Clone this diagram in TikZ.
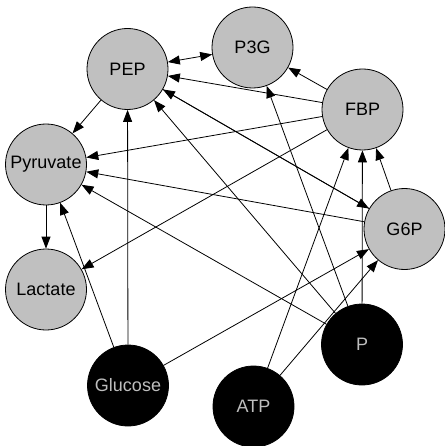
\documentclass[tikz,border=0pt]{standalone}
\usepackage{fontspec}
\setmainfont{Liberation Sans}
\usetikzlibrary{arrows.meta}
\definecolor{nodegray}{HTML}{C0C0C0}
\definecolor{txtgray}{HTML}{BEBEBE}
\tikzset{
  mol/.style={circle, draw=black, line width=0.8pt, fill=nodegray, minimum size=81pt, inner sep=0pt, font=\fontsize{18}{20}\selectfont},
  src/.style={mol, fill=black, text=txtgray},
  arr/.style={-{Triangle[length=12pt,width=9pt]}, line width=0.8pt},
  darr/.style={{Triangle[length=12pt,width=9pt]}-{Triangle[length=12pt,width=9pt]}, line width=0.8pt}
}
\begin{document}
\begin{tikzpicture}[x=1pt,y=-1pt]
\useasboundingbox (0,0) rectangle (444,446);
\node[mol] (PEP) at (127.5,69) {PEP};
\node[mol] (P3G) at (252.5,47.5) {P3G};
\node[mol] (FBP) at (362.5,109.5) {FBP};
\node[mol] (Pyr) at (46,164.5) {Pyruvate};
\node[mol] (G6P) at (404.5,229) {G6P};
\node[mol] (Lac) at (46,289.5) {Lactate};
\node[src] (P) at (362,344.5) {P};
\node[src] (Glc) at (128,385.5) {Glucose};
\node[src] (ATP) at (253.5,406.5) {ATP};
\draw[darr] (PEP) -- (P3G);
\draw[arr] (FBP) -- (P3G);
\draw[arr] (FBP) -- (PEP);
\draw[arr] (G6P) -- (PEP);
\draw[arr] (PEP) -- (G6P);
\draw[arr] (P) -- (PEP);
\draw[arr] (Glc) -- (PEP);
\draw[arr] (PEP) -- (Pyr);
\draw[arr] (FBP) -- (Pyr);
\draw[arr] (G6P) -- (Pyr);
\draw[arr] (P) -- (Pyr);
\draw[arr] (Glc) -- (Pyr);
\draw[arr] (Pyr) -- (Lac);
\draw[arr] (FBP) -- (Lac);
\draw[arr] (P) -- (P3G);
\draw[arr] (ATP) -- (FBP);
\draw[arr] (P) -- (FBP);
\draw[arr] (G6P) -- (FBP);
\draw[arr] (Glc) -- (G6P);
\draw[arr] (ATP) -- (G6P);
\end{tikzpicture}
\end{document}
